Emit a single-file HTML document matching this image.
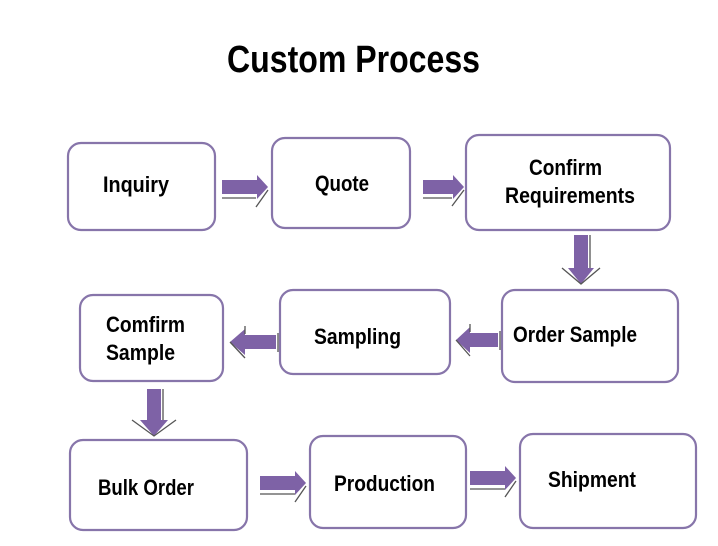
<!DOCTYPE html>
<html><head><meta charset="utf-8"><style>
html,body{margin:0;padding:0;background:#fff;}
svg{display:block;}
text{font-family:"Liberation Sans Narrow","Liberation Sans",sans-serif;font-weight:bold;fill:#000;}
</style></head><body>
<svg width="718" height="546" viewBox="0 0 718 546" xmlns="http://www.w3.org/2000/svg">
<text x="227" y="72" font-size="38" textLength="253" lengthAdjust="spacingAndGlyphs">Custom Process</text>
<g fill="#fff" stroke="#8775aa" stroke-width="2.2">
<rect x="68" y="143" width="147" height="87" rx="13"/>
<rect x="272" y="138" width="138" height="90" rx="13"/>
<rect x="466" y="135" width="204" height="95" rx="13"/>
<rect x="502" y="290" width="176" height="92" rx="13"/>
<rect x="280" y="290" width="170" height="84" rx="13"/>
<rect x="80" y="295" width="143" height="86" rx="13"/>
<rect x="70" y="440" width="177" height="90" rx="13"/>
<rect x="310" y="436" width="156" height="92" rx="13"/>
<rect x="520" y="434" width="176" height="94" rx="13"/>
</g>
<g font-size="22">
<text x="103" y="192" textLength="66" lengthAdjust="spacingAndGlyphs">Inquiry</text>
<text x="315" y="191" textLength="54" lengthAdjust="spacingAndGlyphs">Quote</text>
<text x="529" y="175" textLength="73" lengthAdjust="spacingAndGlyphs">Confirm</text>
<text x="505" y="203" textLength="130" lengthAdjust="spacingAndGlyphs">Requirements</text>
<text x="513" y="342" textLength="124" lengthAdjust="spacingAndGlyphs">Order Sample</text>
<text x="314" y="344" textLength="87" lengthAdjust="spacingAndGlyphs">Sampling</text>
<text x="106" y="332" textLength="79" lengthAdjust="spacingAndGlyphs">Comfirm</text>
<text x="106" y="360" textLength="69" lengthAdjust="spacingAndGlyphs">Sample</text>
<text x="98" y="495" textLength="96" lengthAdjust="spacingAndGlyphs">Bulk Order</text>
<text x="334" y="491" textLength="101" lengthAdjust="spacingAndGlyphs">Production</text>
<text x="548" y="487" textLength="88" lengthAdjust="spacingAndGlyphs">Shipment</text>
</g>
<g fill="#7e62a6" stroke="none">
<polygon points="222,180 257,180 257,175 268,187 257,199 257,194 222,194"/>
<polygon points="423,180 453,180 453,175 464,187 453,199 453,194 423,194"/>
<polygon points="260,476 295,476 295,471 306,483 295,495 295,490 260,490"/>
<polygon points="470,471 505,471 505,466 516,478 505,490 505,485 470,485"/>
<polygon points="574,235 588,235 588,268 594,268 581,284 568,268 574,268"/>
<polygon points="147,389 161,389 161,420 168,420 154,436 140,420 147,420"/>
<polygon points="498,333 498,347 470,347 470,353 456,340 470,327 470,333"/>
<polygon points="276,335 276,349 245,349 245,355 230,342 245,329 245,335"/>
</g>
<g stroke="#555" stroke-width="1.3" fill="none">
<path d="M222,198 H256 M256,207 L268,190"/>
<path d="M423,198 H452 M452,206 L464,190"/>
<path d="M260,494 H295 M295,502 L306,486"/>
<path d="M470,489 H505 M505,497 L516,481"/>
<path d="M590,235 V268 M562,268 L581,284 L600,268"/>
<path d="M163,389 V420 M132,420 L154,436 L176,420"/>
<path d="M500,331 V350 M456,340 L470,356 M470,324 V332"/>
<path d="M278,333 V352 M230,342 L245,358 M245,326 V334"/>
</g>
</svg>
</body></html>
